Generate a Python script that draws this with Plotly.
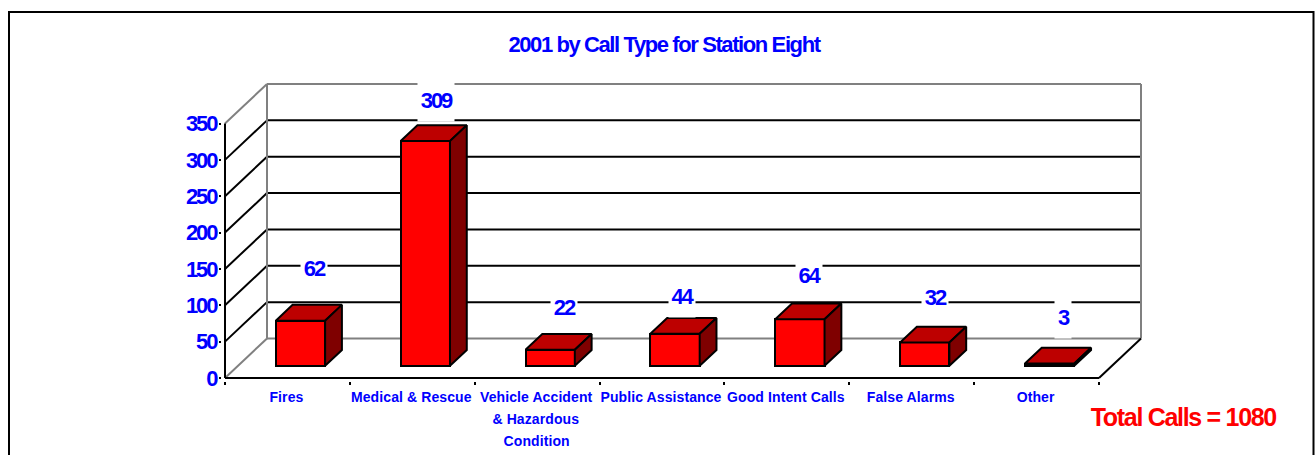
import plotly.graph_objects as go

# ---- data
categories = ["Fires", "Medical & Rescue", "Vehicle Accident", "Public Assistance",
              "Good Intent Calls", "False Alarms", "Other"]
extra_label_lines = {2: ["& Hazardous", "Condition"]}
values = [62, 309, 22, 44, 64, 32, 3]
y_ticks = [0, 50, 100, 150, 200, 250, 300, 350]
title_text = "2001 by Call Type for Station Eight"
total_text = "Total Calls = 1080"

# ---- styling and oblique-projection constants
FONT = "Liberation Sans, Arial, sans-serif"
BLUE = "#0000FF"
BLACK = "#000000"
GREY = "#808080"
FRONT, TOP, SIDE = "#FF0000", "#BD0000", "#7F0000"
W, H = 1315, 455
PLOT_L, PLOT_R, PLOT_T, PLOT_B = 225, 1099, 123.5, 378   # pixel position of the front axes
DEPTH_PX_X, DEPTH_PX_Y = 42, 39.5
PAD = 3
ux = (PLOT_R - PLOT_L) / len(categories)       # px per category
uy = (PLOT_B - PLOT_T) / y_ticks[-1]           # px per value
DX, DY = DEPTH_PX_X / ux, DEPTH_PX_Y / uy      # depth vector in data units
BAR_W = 0.395
D0, D1 = 0.31, 0.71                             # bar depth extent on the floor
# label nudges (px, px), relative to the bar's front-top centre
nudge = [(14, 53), (11, 41), (14, 43), (7, 38), (9, 44), (10, 45), (13, 47)]

n = len(categories)
fig = go.Figure()

# front faces
centers = [i + 0.5 + D0 * DX for i in range(n)]
fig.add_trace(go.Bar(x=centers, y=values, base=[D0 * DY] * n, width=BAR_W,
                     marker=dict(color=FRONT, line=dict(color=BLACK, width=2)),
                     hoverinfo="skip", showlegend=False))

# top and side faces
dd = D1 - D0
for c, v in zip(centers, values):
    l, r = c - BAR_W / 2, c + BAR_W / 2
    y0, y1 = D0 * DY, D0 * DY + v
    fig.add_trace(go.Scatter(
        x=[l, r, r + dd * DX, l + dd * DX, l], y=[y1, y1, y1 + dd * DY, y1 + dd * DY, y1],
        mode="lines", fill="toself", fillcolor=TOP, line=dict(color=BLACK, width=2),
        hoverinfo="skip", showlegend=False))
    fig.add_trace(go.Scatter(
        x=[r, r + dd * DX, r + dd * DX, r, r], y=[y0, y0 + dd * DY, y1 + dd * DY, y1, y0],
        mode="lines", fill="toself", fillcolor=SIDE, line=dict(color=BLACK, width=2),
        hoverinfo="skip", showlegend=False))

# walls and gridlines behind the bars
def seg(x0, y0, x1, y1, color):
    return dict(type="line", xref="x", yref="y", x0=x0, y0=y0, x1=x1, y1=y1,
                layer="below", line=dict(color=color, width=2))

ymax = y_ticks[-1]
shapes = []
for t in y_ticks:
    edge = t in (y_ticks[0], ymax)
    c = GREY if edge else BLACK
    shapes.append(seg(0, t, DX, t + DY, c))
    shapes.append(seg(DX, t + DY, n + DX, t + DY, c))
shapes += [
    seg(DX, DY, DX, ymax + DY, GREY),
    seg(n + DX, DY, n + DX, ymax + DY, GREY),
    seg(0, 0, 0, ymax, BLACK),
    seg(0, 0, n, 0, BLACK),
    seg(n, 0, n + DX, DY, BLACK),
]
# outer frame (runs off the bottom of the picture)
pl = PLOT_L - PAD
pw = (PLOT_R + DEPTH_PX_X + PAD) - pl
pt = PLOT_T - DEPTH_PX_Y - PAD
ph = (PLOT_B + PAD) - pt
shapes.append(dict(type="rect", xref="paper", yref="paper",
                   x0=(9 - pl) / pw, x1=(1313.5 - pl) / pw,
                   y0=1 - (470 - pt) / ph, y1=1 - (12 - pt) / ph,
                   layer="below", line=dict(color=BLACK, width=2)))

annotations = [dict(text=total_text, xref="paper", yref="paper",
                    x=(1183.5 - pl) / pw, y=1 - (417 - pt) / ph, showarrow=False,
                    xanchor="center", yanchor="middle",
                    font=dict(family=FONT, size=25, color="#FF0000", weight="bold"))]
for c, v, (nx, ny) in zip(centers, values, nudge):
    annotations.append(dict(
        text=str(v), x=c, y=D0 * DY + v, xref="x", yref="y", showarrow=False,
        xshift=nx, yshift=ny, width=len(str(v)) * 10 + 6, height=42,
        bgcolor="#FFFFFF", borderpad=0, xanchor="center", yanchor="middle",
        align="center", valign="middle",
        font=dict(family=FONT, size=22, color=BLUE, weight="bold")))
first_extra = len(annotations)
for i, lines in extra_label_lines.items():
    for k, line in enumerate(lines):
        annotations.append(dict(
            text=line, x=i + 0.5, y=0, xref="x", yref="y", showarrow=False,
            xshift=-1, yshift=-(19 + 22 * (k + 1)), xanchor="center", yanchor="middle",
            font=dict(family=FONT, size=14, color=BLUE, weight="bold")))

fig.update_layout(
    width=W, height=H, autosize=False,
    paper_bgcolor="#FFFFFF", plot_bgcolor="#FFFFFF",
    margin=dict(l=pl, r=W - (pl + pw), t=pt, b=H - (pt + ph), pad=0, autoexpand=False),
    bargap=0, showlegend=False, shapes=shapes, annotations=annotations,
    title=dict(text=title_text, x=664 / W, xref="container", xanchor="center",
               y=1 - 44 / H, yref="container", yanchor="middle",
               font=dict(family=FONT, size=22, color=BLUE, weight="bold")),
    xaxis=dict(range=[-PAD / ux, n + DX + PAD / ux], showgrid=False, zeroline=False,
               showline=False, tickmode="array",
               tickvals=[i + 0.5 - 1 / ux for i in range(n)], ticktext=categories,
               ticks="", tickangle=0, ticklabelstandoff=6,
               tickfont=dict(family=FONT, size=14, color=BLUE, weight="bold"),
               minor=dict(tickmode="array", tickvals=list(range(n + 1)), ticks="outside",
                          ticklen=3, tickwidth=2, tickcolor=BLACK)),
    yaxis=dict(range=[-PAD / uy, ymax + DY + PAD / uy], showgrid=False, zeroline=False,
               showline=False, tickmode="array", tickvals=y_ticks,
               ticktext=[str(t) for t in y_ticks], ticks="outside", ticklen=2,
               tickwidth=2, tickcolor=BLACK, ticklabelstandoff=-2,
               tickfont=dict(family=FONT, size=22, color=BLUE, weight="bold")),
)

extra_css = "".join(
    '.annotation[data-index="%d"] text{letter-spacing:0.1px}' % j
    for j in range(first_extra, len(annotations)))
post = """
var s = document.createElement('style');
s.textContent = 'html,body{margin:0;padding:0;overflow:hidden}'
 + '.gtitle{letter-spacing:-1.4px}'
 + '.ytick text{letter-spacing:-2px}'
 + '.annotation text{letter-spacing:-2px}'
 + '.annotation[data-index="0"] text{letter-spacing:-1.3px}'
 + '.xtick text{letter-spacing:0.1px}'
 + '%s';
document.head.appendChild(s);
""" % extra_css
fig.write_html("out.html", post_script=post, config={"displayModeBar": False})
